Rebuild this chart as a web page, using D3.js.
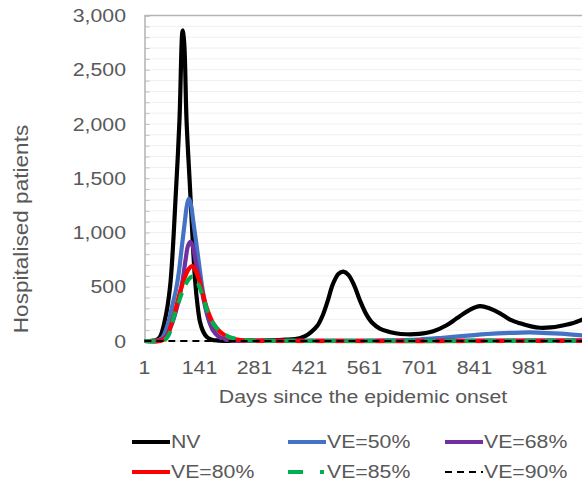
<!DOCTYPE html>
<html><head><meta charset="utf-8">
<script src="https://cdn.jsdelivr.net/npm/d3@7"></script>
<style>
body{margin:0;background:#fff}
text{font-family:"Liberation Sans",Arial,sans-serif;fill:#595959}
</style>
</head><body>
<svg id="c" width="582" height="485"></svg>
<script>
// ---- data ----
const xTickLabels = [1, 141, 281, 421, 561, 701, 841, 981];
const yTickLabels = [0, 500, 1000, 1500, 2000, 2500, 3000];
const seriesNames = ["NV", "VE=50%", "VE=68%", "VE=80%", "VE=85%", "VE=90%"];

const nvDays   = [1,20,30,40,53,66,81,90,98,102,108,117,124,130,136,142,150,159,172,190,250,320,360,396,410,425,441,455,468,480,495,507,520,535,549,565,580,600,640,668,700,736,770,796,830,855,880,906,930,957,985,1008,1035,1059,1090,1121];
const nvValues = [0,2,8,35,193,497,1380,2034,2862,2750,2034,1400,900,550,330,180,90,40,12,4,2,5,12,26,45,82,140,240,377,520,620,640,610,510,377,250,170,115,72,62,66,90,145,209,290,322,300,255,200,163,135,122,125,138,163,205];

const ve50Days   = [1,30,45,61,72,81,89,96,103,109,114,119,126,134,142,149,158,168,180,195,215,250,400,550,620,700,760,840,900,960,1000,1060,1121];
const ve50Values = [0,3,25,163,330,469,650,868,1080,1250,1313,1260,1080,868,650,469,300,163,80,30,10,2,1,2,5,14,30,55,70,78,78,68,50];

const ve68Days   = [1,40,55,70,85,98,106,112,118,124,132,142,152,163,175,190,210,240,300,700,1121];
const ve68Values = [0,5,40,150,330,561,760,880,914,870,720,561,370,210,100,40,12,3,1,2,6];

const ve80Days   = [1,45,58,70,82,93,103,113,123,132,140,147,160,176,195,218,245,290,1121];
const ve80Values = [0,5,40,163,320,469,580,660,690,640,560,469,300,163,80,30,8,2,2];

const ve85Days   = [1,50,62,78,90,100,110,118,125,133,143,153,163,178,198,218,245,280,320,1121];
const ve85Values = [0,5,50,255,380,480,550,585,592,560,480,370,255,150,75,35,12,3,1,1];

const ve90Days   = [1,300,600,900,1121];
const ve90Values = [0,0,0,0,0];

// ---- styles ----
const styles = [
  {color:"#000000", width:4.2, dash:null},
  {color:"#4472C4", width:4.2, dash:null},
  {color:"#7030A0", width:4.2, dash:null},
  {color:"#FF0000", width:4.2, dash:null},
  {color:"#00B050", width:4.2, dash:"11,9", legendDash:"15,17,4,40"},
  {color:"#000000", width:1.8, dash:"7,5"}
];
const seriesData = [
  [nvDays, nvValues], [ve50Days, ve50Values], [ve68Days, ve68Values],
  [ve80Days, ve80Values], [ve85Days, ve85Values], [ve90Days, ve90Values]
];

const svg = d3.select("#c");
const x = d3.scaleLinear().domain([1, 1121]).range([144.5, 584.5]);
const y = d3.scaleLinear().domain([0, 3000]).range([341, 15.5]);
const SX = 1.15, FS = 18.5;

// gridlines every 100
const minor = d3.range(100, 3000, 100);
svg.append("g").selectAll("line").data(minor).join("line")
  .attr("x1", x(1)).attr("x2", 582).attr("y1", d => y(d)).attr("y2", d => y(d))
  .attr("stroke", "#efefef").attr("stroke-width", 1);

// bottom axis line & top border
svg.append("line").attr("x1", x(1)).attr("x2", 582).attr("y1", y(0)).attr("y2", y(0))
  .attr("stroke", "#d9d9d9").attr("stroke-width", 1);
svg.append("line").attr("x1", x(1)).attr("x2", 582).attr("y1", y(3000)).attr("y2", y(3000))
  .attr("stroke", "#b3b3b3").attr("stroke-width", 1.5);

// left axis with inward ticks
const yAxis = d3.axisRight(y).tickValues(d3.range(0, 3001, 100)).tickSize(5).tickFormat("");
const ya = svg.append("g").attr("transform", `translate(${x(1)},0)`).call(yAxis);
ya.select(".domain").attr("stroke", "#b3b3b3").attr("stroke-width", 1.5);
ya.selectAll(".tick line").attr("stroke", "#c0c0c0");

// y tick labels
const fmt = d3.format(",");
svg.append("g").selectAll("text").data(yTickLabels).join("text")
  .attr("transform", d => `translate(126,${y(d) + 6.6}) scale(${SX},1)`)
  .attr("text-anchor", "end").attr("font-size", FS).text(d => fmt(d));

// x tick labels
svg.append("g").selectAll("text").data(xTickLabels).join("text")
  .attr("transform", d => `translate(${x(d)},374) scale(${SX},1)`)
  .attr("text-anchor", "middle").attr("font-size", FS).text(d => d);

// axis titles
svg.append("text").attr("transform", `translate(363,403) scale(${SX},1)`)
  .attr("text-anchor", "middle").attr("font-size", FS).text("Days since the epidemic onset");
svg.append("text").attr("transform", `translate(28,229) rotate(-90) scale(1.13,1)`)
  .attr("text-anchor", "middle").attr("font-size", 20).text("Hospitalised patients");

// lines
const line = d3.line().curve(d3.curveCatmullRom.alpha(0.5));
seriesData.forEach((s, i) => {
  const pts = s[0].map((d, j) => [x(d), y(s[1][j])]);
  const st = styles[i];
  svg.append("path").attr("d", line(pts)).attr("fill", "none")
    .attr("stroke", st.color).attr("stroke-width", st.width)
    .attr("stroke-dasharray", st.dash).attr("stroke-linejoin", "round");
});

// legend
const colX = [132, 288, 445], rowY = [442, 472];
seriesNames.forEach((n, i) => {
  const cx = colX[i % 3], cy = rowY[Math.floor(i / 3)];
  const st = styles[i];
  svg.append("line").attr("x1", cx).attr("x2", cx + 38).attr("y1", cy).attr("y2", cy)
    .attr("stroke", st.color).attr("stroke-width", st.width)
    .attr("stroke-dasharray", st.legendDash || st.dash);
  svg.append("text").attr("transform", `translate(${cx + 39},${cy + 5.5}) scale(${SX},1)`)
    .attr("font-size", FS).text(n);
});
</script>
</body></html>
